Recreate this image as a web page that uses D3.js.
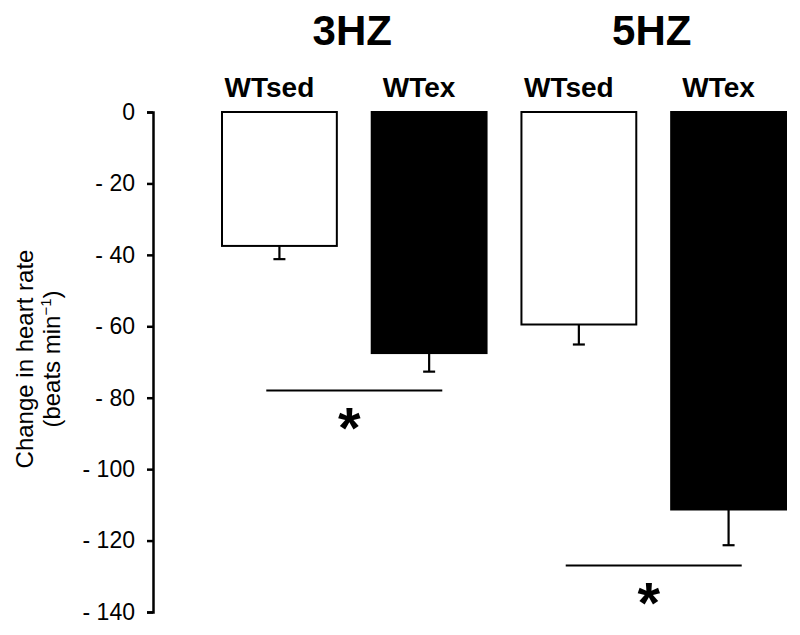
<!DOCTYPE html>
<html>
<head>
<meta charset="utf-8">
<script src="https://cdn.jsdelivr.net/npm/d3@7"></script>
<style>
  html, body { margin: 0; padding: 0; background: #fff; }
  svg { display: block; font-family: "Liberation Sans", Arial, Helvetica, sans-serif; }
</style>
</head>
<body>
<svg id="chart" width="800" height="635"></svg>
<script>
// ---- data ----
const groups = ["3HZ", "5HZ"];
const conditions = ["WTsed", "WTex"];
const barGroup = ["3HZ", "3HZ", "5HZ", "5HZ"];
const barCondition = ["WTsed", "WTex", "WTsed", "WTex"];
const barValues = [-37.5, -67.5, -59.5, -111.3];
const barErrors = [3.7, 5.2, 5.6, 10.0];
const sigLevels = [-78, -127];           // y level of the significance line per group
const sigLabels = ["*", "*"];
const yTicks = [0, -20, -40, -60, -80, -100, -120, -140];
const yTickLabels = ["0", "- 20", "- 40", "- 60", "- 80", "- 100", "- 120", "- 140"];

// ---- layout ----
const svg = d3.select("#chart");
const y = d3.scaleLinear().domain([0, -140]).range([112, 612]);
const barKeys = barValues.map((v, i) => i);
const x = d3.scaleBand().domain(barKeys).range([222, 786]).paddingInner(0.233).paddingOuter(0);
const fillFor = { WTsed: "#ffffff", WTex: "#000000" };

// axis
const axis = d3.axisLeft(y)
  .tickValues(yTicks)
  .tickFormat((d, i) => yTickLabels[i])
  .tickSize(6)
  .tickSizeOuter(6)
  .tickPadding(12);
const gAxis = svg.append("g").attr("transform", "translate(153,0)").call(axis);
gAxis.select(".domain").attr("stroke", "#000").attr("stroke-width", 2.5);
gAxis.selectAll(".tick line").attr("stroke", "#000").attr("stroke-width", 2.5);
gAxis.selectAll(".tick text")
  .attr("fill", "#000")
  .style("font-size", "23px")
  .style("font-family", "'Liberation Sans', Arial, sans-serif");

// y title
const yt = svg.append("text")
  .attr("transform", "translate(33,359) rotate(-90)")
  .attr("text-anchor", "middle")
  .style("font-size", "24px")
  .attr("fill", "#000");
yt.append("tspan").attr("x", 0).attr("dy", 0).text("Change in heart rate");
const yt2 = svg.append("text")
  .attr("transform", "translate(60,359) rotate(-90)")
  .attr("text-anchor", "middle")
  .style("font-size", "24px")
  .attr("fill", "#000");
yt2.append("tspan").text("(beats min");
yt2.append("tspan").attr("dy", -9).style("font-size", "15px").text("\u22121");
yt2.append("tspan").attr("dy", 9).text(")");

// bars
svg.append("g").selectAll("rect")
  .data(barKeys)
  .join("rect")
  .attr("x", i => x(i))
  .attr("y", y(0))
  .attr("width", x.bandwidth())
  .attr("height", i => y(barValues[i]) - y(0))
  .attr("fill", i => fillFor[barCondition[i]])
  .attr("stroke", "#000")
  .attr("stroke-width", 2);

// error bars (downward)
const eb = svg.append("g").attr("stroke", "#000").attr("stroke-width", 2.2);
barKeys.forEach(i => {
  const cx = x(i) + x.bandwidth() / 2;
  eb.append("line")
    .attr("x1", cx).attr("x2", cx)
    .attr("y1", y(barValues[i])).attr("y2", y(barValues[i] - barErrors[i]));
  eb.append("line")
    .attr("x1", cx - 6).attr("x2", cx + 6)
    .attr("y1", y(barValues[i] - barErrors[i])).attr("y2", y(barValues[i] - barErrors[i]));
});

// condition labels
svg.append("g").selectAll("text")
  .data(barKeys)
  .join("text")
  .attr("x", i => x(i) + x.bandwidth() / 2 - 10)
  .attr("y", 97)
  .attr("text-anchor", "middle")
  .style("font-size", "28px")
  .style("font-weight", "bold")
  .attr("fill", "#000")
  .text(i => barCondition[i]);

// group titles + significance
groups.forEach((g, gi) => {
  const idx = barKeys.filter(i => barGroup[i] === g);
  const c0 = x(idx[0]) + x.bandwidth() / 2;
  const c1 = x(idx[idx.length - 1]) + x.bandwidth() / 2;
  const mid = (c0 + c1) / 2;
  svg.append("text")
    .attr("x", mid - 2)
    .attr("y", 45)
    .attr("text-anchor", "middle")
    .style("font-size", "42px")
    .style("font-weight", "bold")
    .attr("fill", "#000")
    .text(g);
  svg.append("line")
    .attr("x1", mid - 88).attr("x2", mid + 88)
    .attr("y1", y(sigLevels[gi])).attr("y2", y(sigLevels[gi]))
    .attr("stroke", "#000").attr("stroke-width", 2);
  svg.append("text")
    .attr("x", mid - 5)
    .attr("y", y(sigLevels[gi]) + 57)
    .attr("text-anchor", "middle")
    .style("font-size", "58px")
    .style("font-weight", "bold")
    .attr("fill", "#000")
    .text(sigLabels[gi]);
});
</script>
</body>
</html>
